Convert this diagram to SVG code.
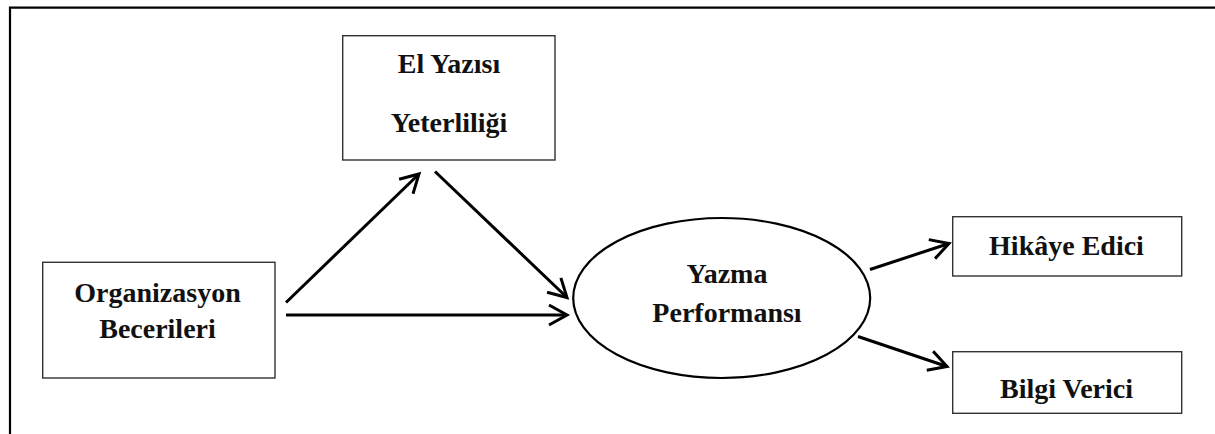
<svg xmlns="http://www.w3.org/2000/svg" width="1215" height="434" viewBox="0 0 1215 434">
  <style>
    .box { fill: #ffffff; stroke: #333333; stroke-width: 1.4; }
    .ell { fill: #ffffff; stroke: #000000; stroke-width: 2.2; }
    .lbl { font-family: "Liberation Serif", "Times New Roman", serif; font-weight: bold; font-size: 28px; fill: #111111; text-anchor: middle; }
    .conn { stroke: #000000; stroke-width: 3; fill: none; }
    .frame { stroke: #000000; stroke-width: 2.2; fill: none; }
  </style>
  <defs>
    <marker id="arr" markerUnits="userSpaceOnUse" markerWidth="24" markerHeight="26" refX="19" refY="11" orient="auto" overflow="visible">
      <path d="M1,1 L19,11 L1,21" fill="none" stroke="#000000" stroke-width="3" stroke-linejoin="miter"/>
    </marker>
  </defs>
  <rect width="1215" height="434" fill="#ffffff"/>
  <g id="frame">
    <path class="frame" d="M10,434 L10,7.7 L1215,7.7"/>
  </g>
  <g id="connectors">
    <line class="conn" x1="286" y1="302.5" x2="419" y2="174" marker-end="url(#arr)"/>
    <line class="conn" x1="435" y1="171.5" x2="567" y2="297.5" marker-end="url(#arr)"/>
    <line class="conn" x1="286" y1="315" x2="567" y2="315" marker-end="url(#arr)"/>
    <line class="conn" x1="870" y1="269.5" x2="949" y2="243.5" marker-end="url(#arr)"/>
    <line class="conn" x1="858" y1="336.5" x2="947" y2="366.5" marker-end="url(#arr)"/>
  </g>
  <g id="node-el-yazisi">
    <rect class="box" x="342.7" y="35.7" width="212.3" height="124.3"/>
    <text class="lbl" x="449" y="73">El Yazısı</text>
    <text class="lbl" x="449" y="131.5">Yeterliliği</text>
  </g>
  <g id="node-organizasyon">
    <rect class="box" x="42.7" y="262.3" width="232.3" height="115.7"/>
    <text class="lbl" x="157.5" y="301.5">Organizasyon</text>
    <text class="lbl" x="157.5" y="338">Becerileri</text>
  </g>
  <g id="node-yazma">
    <ellipse class="ell" cx="721.7" cy="298" rx="148.5" ry="80"/>
    <text class="lbl" x="727" y="283">Yazma</text>
    <text class="lbl" x="727" y="321.5">Performansı</text>
  </g>
  <g id="node-hikaye">
    <rect class="box" x="952.7" y="216.7" width="229" height="59.3"/>
    <text class="lbl" x="1066.5" y="255">Hikâye Edici</text>
  </g>
  <g id="node-bilgi">
    <rect class="box" x="952.7" y="351.7" width="229" height="61.6"/>
    <text class="lbl" x="1066.5" y="398">Bilgi Verici</text>
  </g>
</svg>
